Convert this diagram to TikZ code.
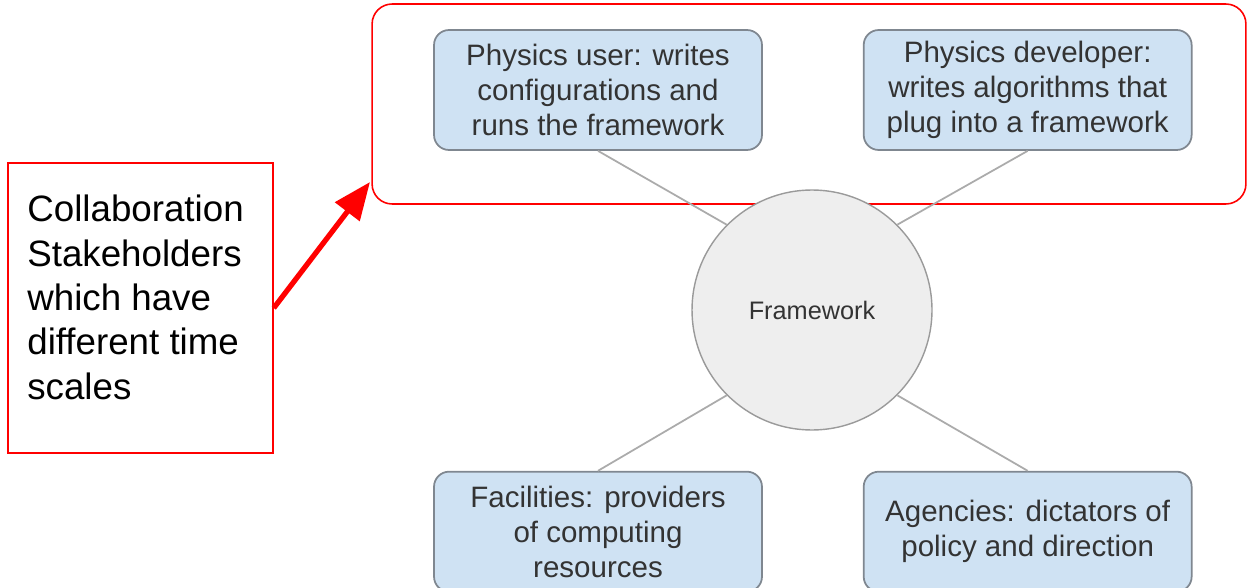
\documentclass[tikz,border=0pt]{standalone}
\usepackage{fontspec}
\setmainfont{Liberation Sans}
\usetikzlibrary{positioning, arrows.meta}

\definecolor{boxfill}{HTML}{CFE2F3}
\definecolor{boxline}{HTML}{7F8790}
\definecolor{hubfill}{HTML}{EEEEEE}
\definecolor{hubline}{HTML}{9A9A9A}
\definecolor{linkgray}{HTML}{ABABAB}
\definecolor{textgray}{HTML}{333333}
\definecolor{alertred}{HTML}{FF0000}

\begin{document}
\begin{tikzpicture}[
    % pixel-like units, y axis pointing down
    x=0.02cm, y=-0.02cm,
    stakeholder/.style={
        rectangle,
        rounded corners=0.3cm,
        draw=boxline,
        line width=1pt,
        fill=boxfill,
        minimum width=6.56cm,
        minimum height=2.4cm,
        align=center,
        text=textgray,
        font=\fontsize{16.8}{20}\selectfont
    },
    hub/.style={
        circle,
        draw=hubline,
        line width=0.8pt,
        fill=hubfill,
        minimum size=4.8cm,
        text=textgray,
        font=\fontsize{14.4}{17}\selectfont
    },
    link/.style={
        draw=linkgray,
        line width=1pt
    },
    group frame/.style={
        rectangle,
        rounded corners=0.4cm,
        draw=alertred,
        line width=0.9pt,
        minimum width=17.48cm,
        minimum height=4cm
    },
    note box/.style={
        rectangle,
        draw=alertred,
        line width=0.9pt,
        minimum width=5.3cm,
        minimum height=5.8cm
    },
    callout/.style={
        draw=alertred,
        line width=3pt,
        -{Triangle[length=0.75cm, width=0.6cm]}
    }
]
    \useasboundingbox (0,0) rectangle (1247,588);

    % --- 1. Place Nodes ---
    \node[group frame] (group) at (809,104) {};

    \node[stakeholder] (user) at (598,90)
        {Physics user: writes\\configurations and\\runs the framework};
    % developer 2cm to the right of the user
    \node[stakeholder] (developer) [right=2cm of user]
        {Physics developer:\\writes algorithms that\\plug into a framework};
    \node[stakeholder] (facilities) [below=6.4cm of user]
        {Facilities: providers\\of computing\\resources};
    \node[stakeholder] (agencies) [right=2cm of facilities]
        {Agencies: dictators of\\policy and direction};

    \node[hub] (framework) at (812,310) {Framework};

    \node[note box] (note) at (140.5,308) {};
    \node[anchor=north west, inner sep=0pt, align=left,
          font=\fontsize{20.9}{25.2}\selectfont] (notetext) at (27,195)
        {Collaboration\\Stakeholders\\which have\\different time\\scales};

    \coordinate (tip) at (370,182);

    % --- 2. Draw Edges ---
    \draw[link] (user.south) -- (framework.135);
    \draw[link] (developer.south) -- (framework.45);
    \draw[link] (facilities.north) -- (framework.-135);
    \draw[link] (agencies.north) -- (framework.-45);

    % note -> stakeholder group
    \draw[callout] (note.east) -- (tip);

\end{tikzpicture}
\end{document}
